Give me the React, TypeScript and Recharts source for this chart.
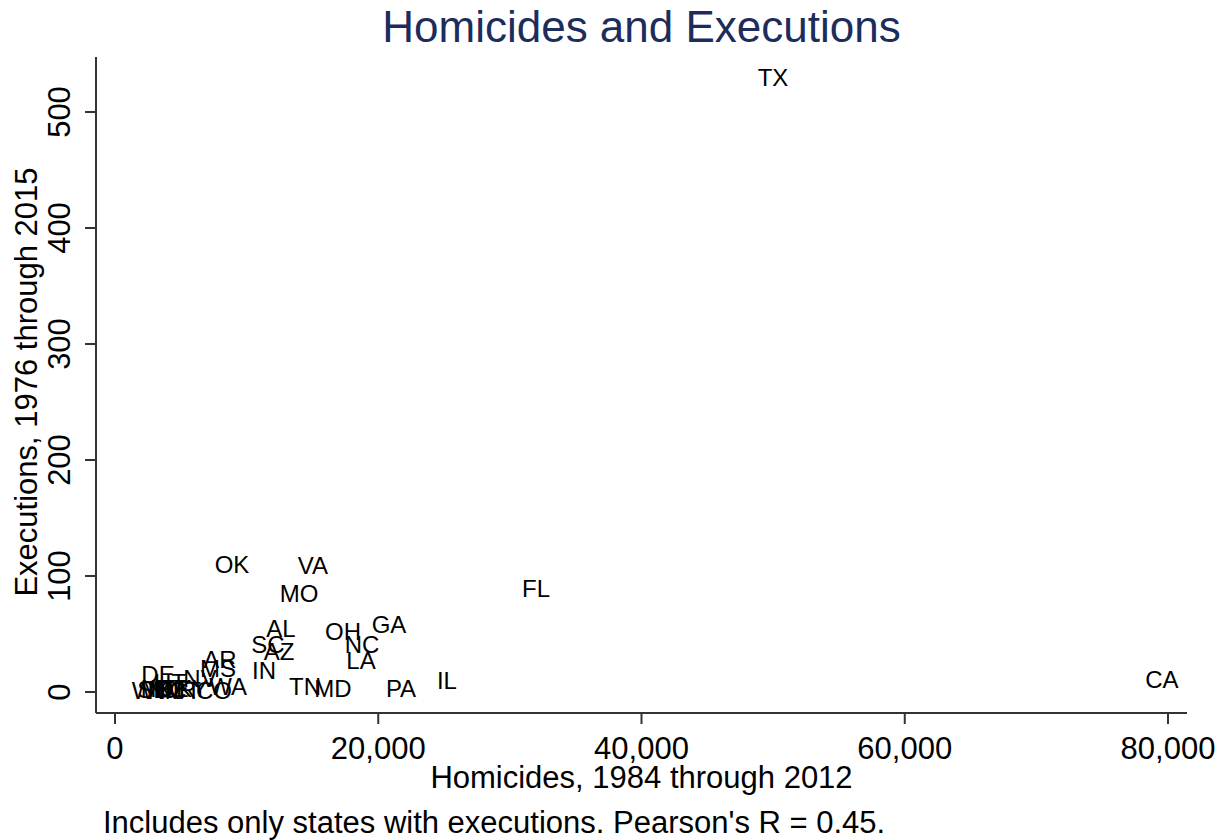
import React from 'react';
import { ScatterChart, Scatter, XAxis, YAxis, Label } from 'recharts';

const states = ['TX', 'OK', 'VA', 'MO', 'FL', 'GA', 'OH', 'NC', 'LA', 'AL', 'SC', 'AZ', 'IN', 'AR', 'MS', 'TN', 'MD', 'PA', 'IL', 'CA', 'DE', 'UT', 'NV', 'WA', 'WY', 'SD', 'MT', 'ID', 'NM', 'NE', 'OR', 'CT', 'KY', 'CO'];
const homicides = [49990, 8890, 15040, 13980, 31990, 20820, 17320, 18770, 18690, 12610, 11620, 12460, 11320, 7980, 7830, 14440, 16560, 21730, 25220, 79540, 3270, 4180, 6460, 8590, 2750, 2950, 3270, 3570, 3880, 4330, 4790, 5320, 5850, 7520];
const executions = [530, 110, 109, 85, 89, 58, 52, 41, 27, 55, 41, 35, 19, 28, 20, 5, 3, 3, 10, 11, 15, 8, 12, 5, 1, 2, 3, 3, 1, 3, 2, 1, 3, 1];

const xTicks = [0, 20000, 40000, 60000, 80000];
const yTicks = [0, 100, 200, 300, 400, 500];

const title = 'Homicides and Executions';
const xTitle = 'Homicides, 1984 through 2012';
const yTitle = 'Executions, 1976 through 2015';
const note = "Includes only states with executions. Pearson's R = 0.45.";

const FONT = '"Liberation Sans", Arial, Helvetica, sans-serif';

const data = states.map((s, i) => ({ state: s, x: homicides[i], y: executions[i] }));

const fmt = (v: number) => v.toLocaleString('en-US');

const XTick = (props: any) => {
  const { x, y, payload } = props;
  return (
    <text x={x} y={y} dy={35} textAnchor="middle" fontSize={31} fontFamily={FONT} fill="#000">
      {fmt(payload.value)}
    </text>
  );
};

const YTick = (props: any) => {
  const { x, y, payload } = props;
  const tx = x - 15;
  return (
    <text x={tx} y={y} transform={`rotate(-90, ${tx}, ${y})`} textAnchor="middle" fontSize={31} fontFamily={FONT} fill="#000">
      {fmt(payload.value)}
    </text>
  );
};

const StateLabel = (props: any) => {
  const { cx, cy, payload } = props;
  if (cx == null || cy == null) return null;
  return (
    <text x={cx} y={cy} dy={8.6} textAnchor="middle" fontSize={24} fontFamily={FONT} fill="#000">
      {payload.state}
    </text>
  );
};

const XTitle = (props: any) => {
  const vb = props.viewBox || { x: 96, y: 713, width: 1091, height: 127 };
  return (
    <text x={vb.x + vb.width / 2} y={vb.y + 75} textAnchor="middle" fontSize={31} fontFamily={FONT} fill="#000">
      {xTitle}
    </text>
  );
};

const YTitle = (props: any) => {
  const vb = props.viewBox || { x: 0, y: 57, width: 96, height: 656 };
  const tx = vb.x + 37;
  const ty = vb.y + vb.height / 2 - 3;
  return (
    <text x={tx} y={ty} transform={`rotate(-90, ${tx}, ${ty})`} textAnchor="middle" fontSize={31} fontFamily={FONT} fill="#000">
      {yTitle}
    </text>
  );
};

export default function App() {
  return (
    <div style={{ position: 'absolute', left: 0, top: 0, width: 1226, height: 840, background: '#fff' }}>
      <div
        style={{
          position: 'absolute',
          left: 96,
          width: 1091,
          top: 5,
          textAlign: 'center',
          fontFamily: FONT,
          fontSize: 44,
          lineHeight: '44px',
          color: '#1c2d5c',
          whiteSpace: 'nowrap',
        }}
      >
        {title}
      </div>
      <ScatterChart width={1226} height={840} margin={{ top: 57, right: 39, bottom: 0, left: 0 }}>
        <XAxis
          type="number"
          dataKey="x"
          domain={[-1443, 81443]}
          ticks={xTicks}
          allowDataOverflow
          height={127}
          tickSize={11}
          tickMargin={0}
          tick={<XTick />}
          axisLine={{ stroke: '#333', strokeWidth: 2 }}
          tickLine={{ stroke: '#333', strokeWidth: 2 }}
        >
          <Label content={<XTitle />} />
        </XAxis>
        <YAxis
          type="number"
          dataKey="y"
          domain={[-18.1, 547.4]}
          ticks={yTicks}
          allowDataOverflow
          width={96}
          tickSize={11}
          tickMargin={0}
          tick={<YTick />}
          axisLine={{ stroke: '#333', strokeWidth: 2 }}
          tickLine={{ stroke: '#333', strokeWidth: 2 }}
        >
          <Label content={<YTitle />} />
        </YAxis>
        <Scatter data={data} shape={<StateLabel />} isAnimationActive={false} />
      </ScatterChart>
      <div
        style={{
          position: 'absolute',
          left: 103,
          top: 806.8,
          fontFamily: FONT,
          fontSize: 31,
          lineHeight: '31px',
          color: '#000',
          whiteSpace: 'nowrap',
        }}
      >
        {note}
      </div>
    </div>
  );
}
